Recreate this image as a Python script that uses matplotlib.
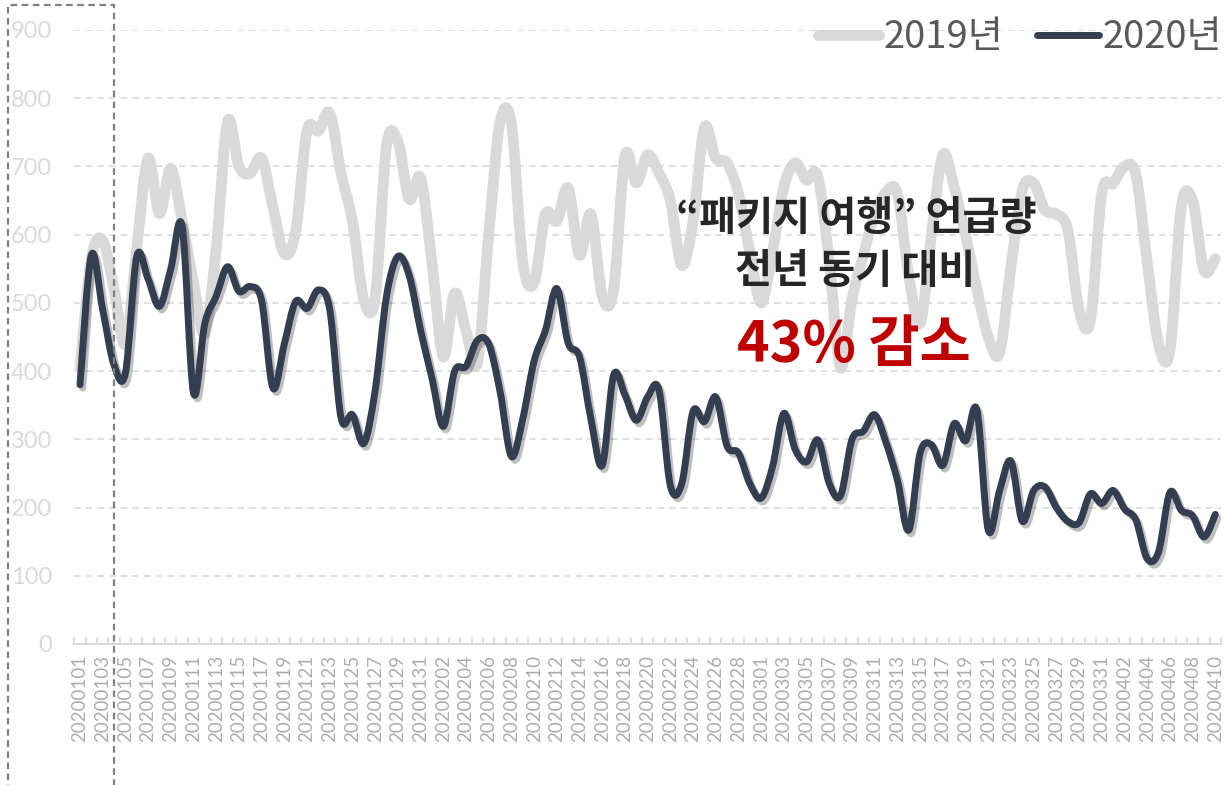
import numpy as np
import matplotlib
matplotlib.use("Agg")
import matplotlib.pyplot as plt
from matplotlib.path import Path
from matplotlib.patches import PathPatch, Rectangle
from matplotlib.lines import Line2D
import matplotlib.patheffects as pe

plt.rcParams['font.family'] = ['Noto Sans CJK KR', 'DejaVu Sans']

# 2020.01.01 ~ 2020.04.10 daily mentions
dates = []
for m, nd in [(1, 31), (2, 29), (3, 31), (4, 10)]:
    for d in range(1, nd + 1):
        dates.append("2020%02d%02d" % (m, d))

y2019 = [405, 565, 592, 520, 440, 580, 712, 631, 697, 620,
         530, 455, 580, 766, 700, 690, 712, 640, 572, 605,
         752, 752, 778, 690, 620, 505, 508, 730, 737, 652,
         683, 560, 421, 514, 460, 412, 600, 765, 762, 560,
         530, 630, 620, 668, 570, 630, 510, 519, 715, 676,
         717, 690, 650, 555, 620, 757, 712, 705, 660, 575,
         500, 575, 670, 705, 680, 685, 560, 405, 505, 570,
         630, 662, 660, 540, 470, 600, 717, 670, 600, 520,
         450, 427, 553, 665, 675, 636, 630, 607, 490, 475,
         660, 675, 700, 688, 560, 440, 430, 640, 650, 548, 565]

y2020 = [380, 570, 490, 409, 397, 568, 535, 495, 550, 612,
         368, 470, 510, 553, 517, 524, 503, 375, 440, 502,
         492, 519, 490, 331, 336, 294, 372, 510, 568, 540,
         460, 390, 319, 400, 407, 445, 440, 370, 275, 330,
         415, 460, 521, 441, 421, 330, 262, 394, 365, 328,
         362, 372, 232, 235, 341, 326, 362, 290, 280, 235,
         214, 260, 338, 285, 267, 299, 235, 218, 300, 312,
         336, 295, 240, 167, 280, 292, 262, 323, 298, 343,
         167, 225, 268, 180, 225, 230, 200, 180, 178, 220,
         206, 225, 198, 182, 125, 135, 222, 196, 188, 157, 190]

series_names = ["2019년", "2020년"]
c19 = "#D9D9D9"
c20 = "#333F50"


def smooth_path(xs, ys):
    # excel-like smoothed line: cubic bezier through every point
    p = np.column_stack([xs, ys]).astype(float)
    n = len(p)
    verts = [p[0]]
    codes = [Path.MOVETO]
    for i in range(n - 1):
        p0 = p[i - 1] if i > 0 else p[i]
        p1 = p[i]
        p2 = p[i + 1]
        p3 = p[i + 2] if i + 2 < n else p[i + 1]
        verts += [p1 + (p2 - p0) / 6.0, p2 - (p3 - p1) / 6.0, p2]
        codes += [Path.CURVE4] * 3
    return Path(verts, codes)


fig = plt.figure(figsize=(12.25, 7.85), dpi=100)
ax = fig.add_axes([74.3 / 1225, 1 - 644 / 785, (1221 - 74.3) / 1225, (644 - 30) / 785])

x = np.arange(len(dates))
ax.add_patch(PathPatch(smooth_path(x, y2019), fill=False, edgecolor=c19,
                       lw=7.8, capstyle='round', joinstyle='round', zorder=3))
ax.add_patch(PathPatch(smooth_path(x, y2020), fill=False, edgecolor=c20,
                       lw=5, capstyle='round', joinstyle='round', zorder=4,
                       path_effects=[pe.SimpleLineShadow(offset=(2, -2.5), shadow_color='black', alpha=0.25),
                                     pe.Normal()]))

ax.set_xlim(-0.5, len(dates) - 0.5)
ax.set_ylim(0, 900)
ax.set_yticks(range(0, 901, 100))
ax.set_xticks(x[::2])
ax.set_xticklabels(dates[::2], rotation=90, fontsize=13.5, color="#ADADAD", family=['Lato', 'DejaVu Sans'])
ax.set_xticks(np.arange(-0.5, len(dates), 1), minor=True)
ax.tick_params(axis='x', which='major', length=0, pad=8)
ax.tick_params(axis='x', which='minor', length=5, width=1.2, direction='in', color="#D9D9D9")
ax.tick_params(axis='y', length=0, pad=16, labelsize=17, labelcolor="#D9D9D9")
for lb in ax.get_yticklabels():
    lb.set_family(['Lato', 'DejaVu Sans'])

ax.grid(axis='y', color="#D9D9D9", lw=1.2, ls=(0, (4, 3)))
ax.set_axisbelow(True)
for s in ['left', 'right', 'top']:
    ax.spines[s].set_visible(False)
ax.spines['bottom'].set_color("#D9D9D9")
ax.spines['bottom'].set_linewidth(1.5)

handles = [Line2D([], [], color=c19, lw=7.8, solid_capstyle='round'),
           Line2D([], [], color=c20, lw=5, solid_capstyle='round')]
leg = fig.legend(handles, series_names, loc='center right', bbox_to_anchor=(1222 / 1225, 1 - 38 / 785),
                 ncol=2, frameon=False, fontsize=27.5, handlelength=1.6, handletextpad=0.1,
                 columnspacing=0.9, borderpad=0, borderaxespad=0)
for t in leg.get_texts():
    t.set_color("#595959")

fig.text(856 / 1225, 1 - 218 / 785, "“패키지 여행” 언급량", ha='center', va='center',
         fontsize=29, fontweight='bold', color="#262626")
fig.text(855 / 1225, 1 - 272 / 785, "전년 동기 대비", ha='center', va='center',
         fontsize=29, fontweight='bold', color="#262626")
fig.text(854 / 1225, 1 - 345 / 785, "43% 감소", ha='center', va='center',
         fontsize=40, fontweight='bold', color="#C00000")

# dashed box around first days
fig.patches.append(Rectangle((8 / 1225, -0.02), 106 / 1225, 1.02 - 5 / 785, transform=fig.transFigure,
                             fill=False, edgecolor="#808080", lw=1.6, ls=(0, (3, 2)), zorder=10))

fig.savefig("out.png", dpi=100)
